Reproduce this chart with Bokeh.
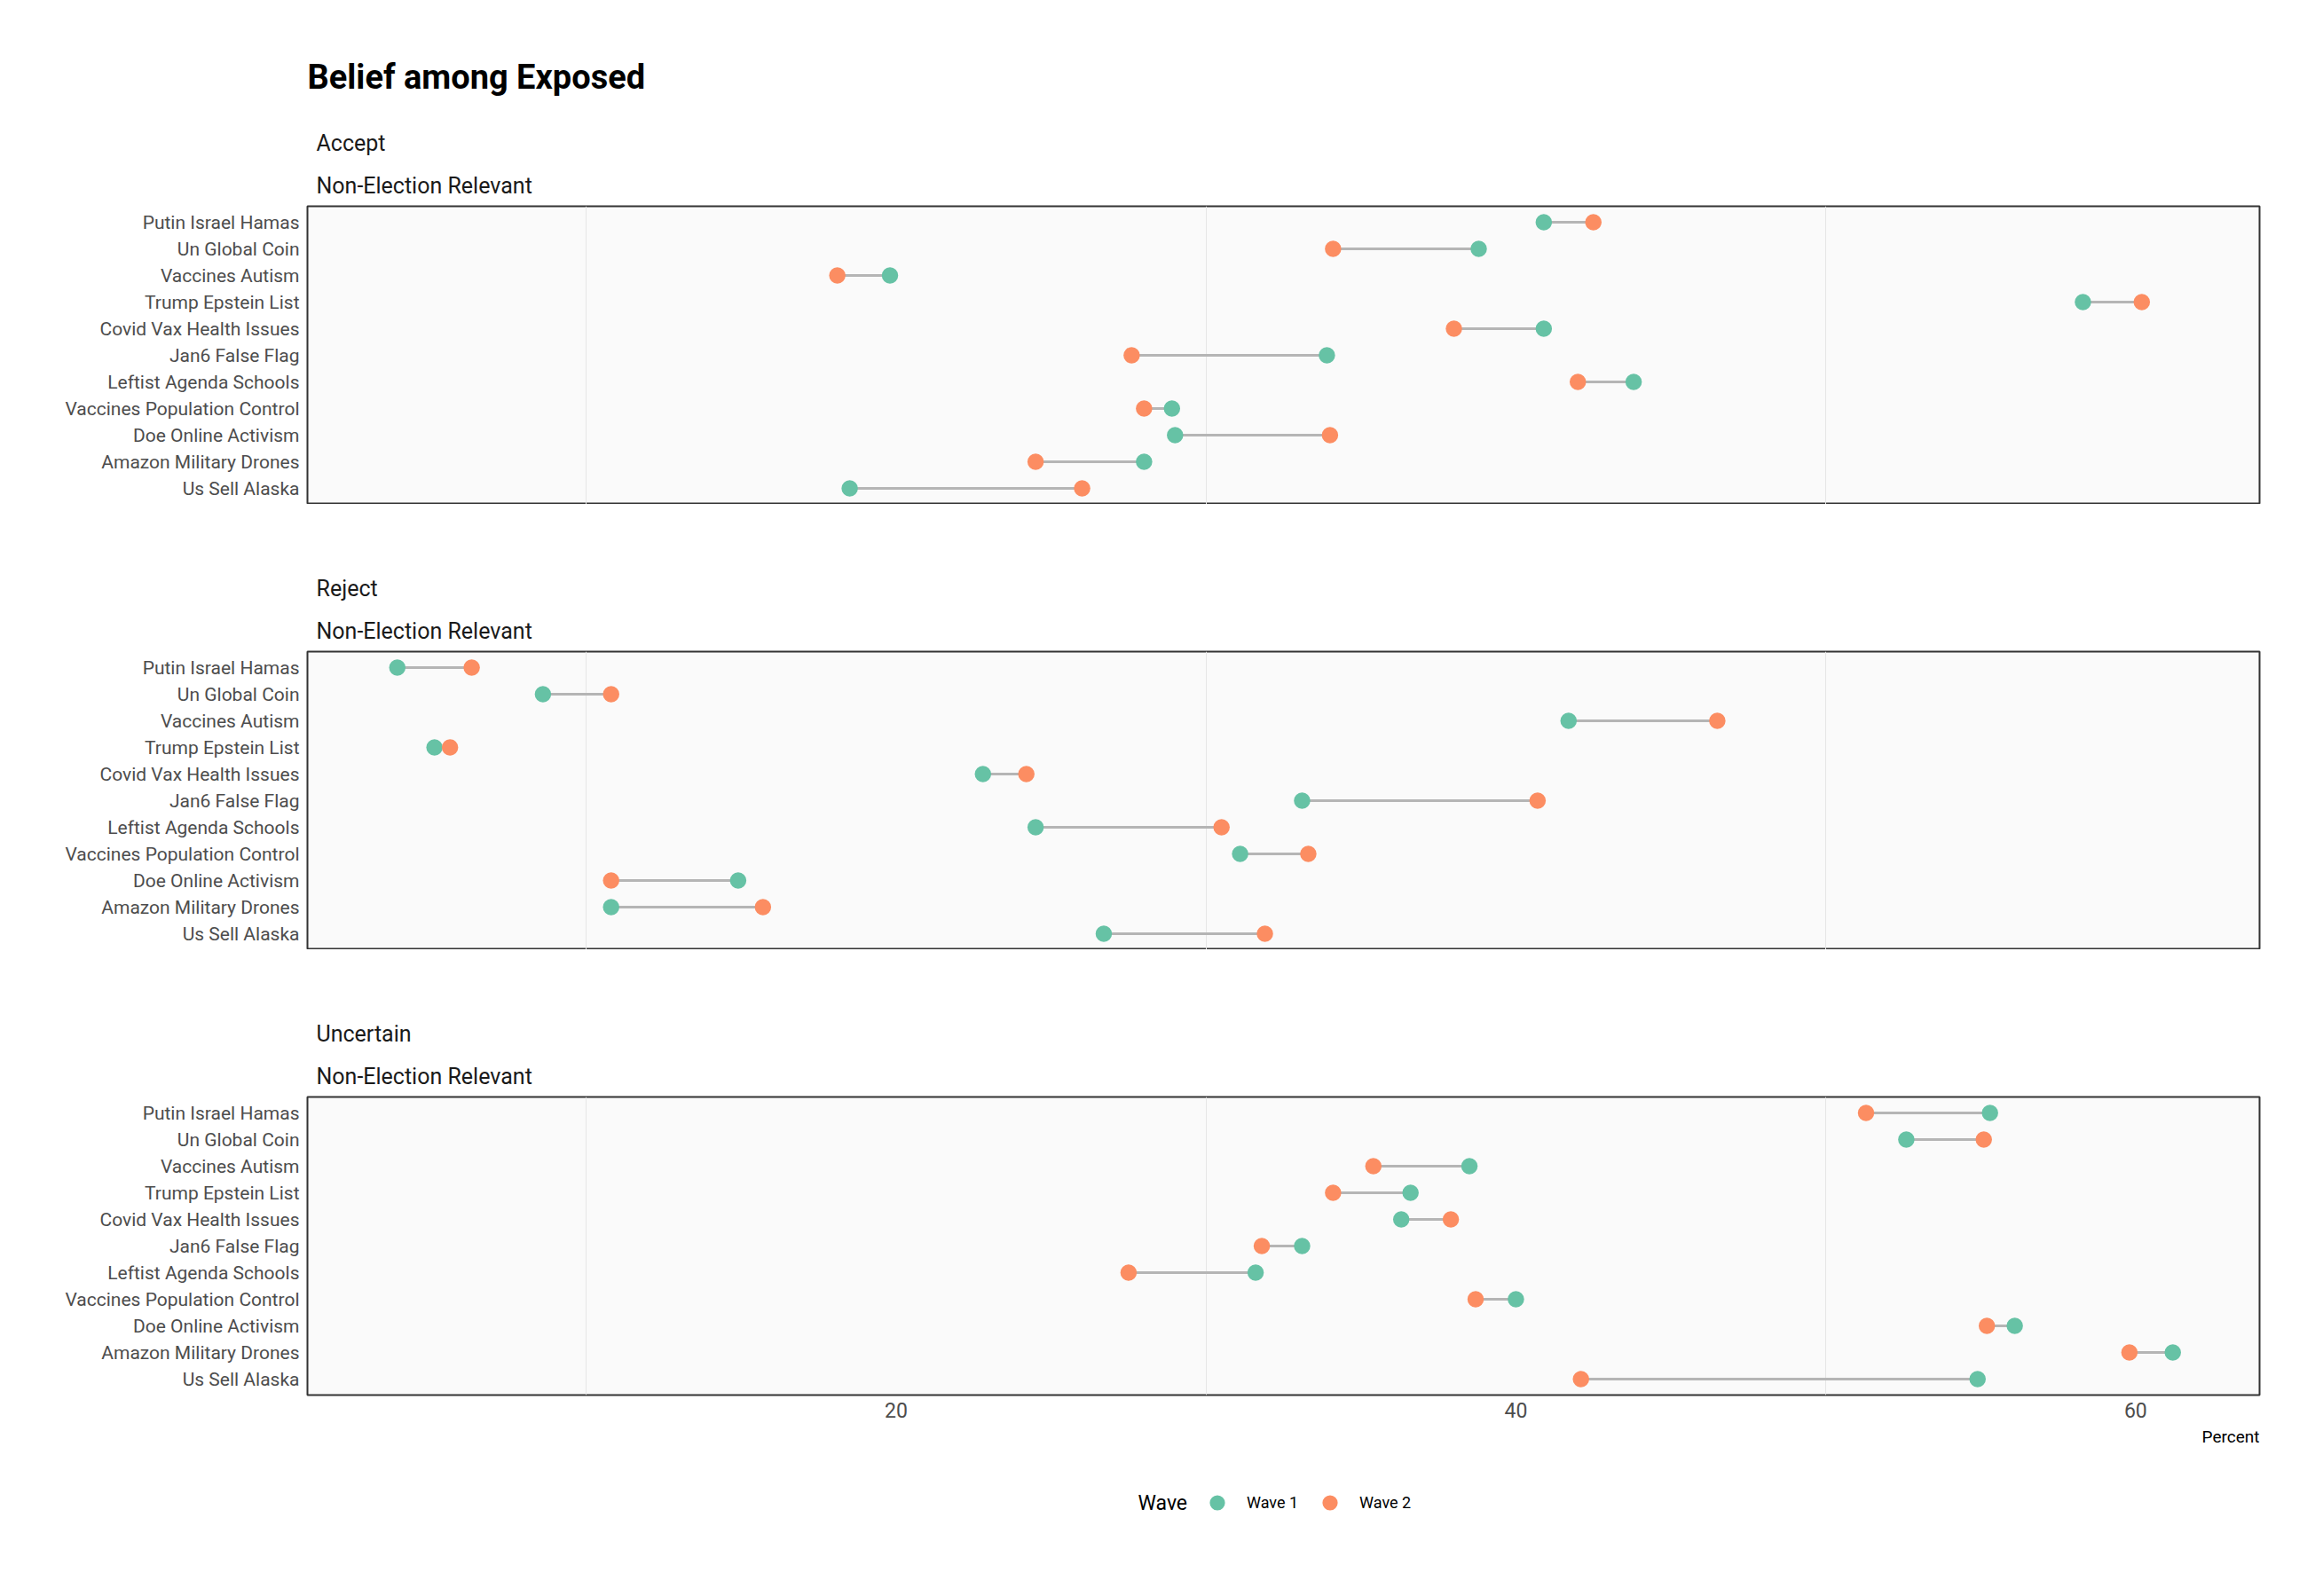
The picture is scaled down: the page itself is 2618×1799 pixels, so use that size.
import numpy as np
from bokeh.plotting import figure
from bokeh.models import (ColumnDataSource, FactorRange, Range1d, FixedTicker, Grid,
                          Title, Label, Legend, LegendItem)
from bokeh.layouts import column
from bokeh.embed import file_html
from bokeh.resources import INLINE

# ---------------- data ----------------
topics = ["Putin Israel Hamas", "Un Global Coin", "Vaccines Autism", "Trump Epstein List",
          "Covid Vax Health Issues", "Jan6 False Flag", "Leftist Agenda Schools",
          "Vaccines Population Control", "Doe Online Activism", "Amazon Military Drones",
          "Us Sell Alaska"]

accept_w1 = [40.9, 38.8, 19.8, 58.3, 40.9, 33.9, 43.8, 28.9, 29.0, 28.0, 18.5]
accept_w2 = [42.5, 34.1, 18.1, 60.2, 38.0, 27.6, 42.0, 28.0, 34.0, 24.5, 26.0]

reject_w1 = [3.9, 8.6, 41.7, 5.1, 22.8, 33.1, 24.5, 31.1, 14.9, 10.8, 26.7]
reject_w2 = [6.3, 10.8, 46.5, 5.6, 24.2, 40.7, 30.5, 33.3, 10.8, 15.7, 31.9]

uncertain_w1 = [55.3, 52.6, 38.5, 36.6, 36.3, 33.1, 31.6, 40.0, 56.1, 61.2, 54.9]
uncertain_w2 = [51.3, 55.1, 35.4, 34.1, 37.9, 31.8, 27.5, 38.7, 55.2, 59.8, 42.1]

panels = ["Accept", "Reject", "Uncertain"]
group_label = "Non-Election Relevant"
x_ticks = [20, 40, 60]
grid_ticks = [10, 30, 50]
legend_title = "Wave"
wave_labels = ["Wave 1", "Wave 2"]

# ---------------- style ----------------
FONT = "Roboto"
C1 = "#66C2A5"
C2 = "#FC8D62"
FRAME_W = 2200
FRAME_H = 336
x_range = Range1d(1.0, 64.0)

series = [(accept_w1, accept_w2), (reject_w1, reject_w2), (uncertain_w1, uncertain_w2)]
figs = []
for k, (name, (w1, w2)) in enumerate(zip(panels, series)):
    last = (k == 2)
    yr = FactorRange(factors=list(reversed(topics)), range_padding=0.1,
                     range_padding_units="absolute")
    p = figure(frame_width=FRAME_W, frame_height=FRAME_H, x_range=x_range, y_range=yr,
               output_backend="svg", toolbar_location=None,
               x_axis_location="below" if last else None,
               min_border_left=346, min_border_right=60,
               min_border_top=232 if k == 0 else 166,
               min_border_bottom=80 if last else 0)
    p.background_fill_color = "#FAFAFA"
    p.border_fill_color = "white"
    p.outline_line_color = "#333333"
    p.outline_line_width = 2
    p.grid.visible = False
    p.add_layout(Grid(dimension=0, ticker=FixedTicker(ticks=grid_ticks),
                      grid_line_color="#E6E6E6", grid_line_width=1))

    ya = p.yaxis[0]
    ya.axis_line_color = None
    ya.major_tick_line_color = None
    ya.minor_tick_line_color = None
    ya.major_label_text_font = FONT
    ya.major_label_text_font_size = "21px"
    ya.major_label_text_color = "#4D4D4D"
    ya.major_label_standoff = 3

    src = ColumnDataSource(dict(topic=topics, w1=w1, w2=w2))
    p.segment(x0="w1", y0="topic", x1="w2", y1="topic", source=src,
              line_color="#B5B5B5", line_width=3)
    p.scatter(x="w1", y="topic", source=src, size=18.5, fill_color=C1, line_color=None)
    p.scatter(x="w2", y="topic", source=src, size=18.5, fill_color=C2, line_color=None)

    # strip labels (first added = closest to the panel)
    p.add_layout(Title(text=group_label, align="left", offset=10, standoff=18,
                       text_font=FONT, text_font_size="25px", text_font_style="normal",
                       text_color="#1A1A1A"), "above")
    p.add_layout(Title(text=name, align="left", offset=10, standoff=15,
                       text_font=FONT, text_font_size="25px", text_font_style="normal",
                       text_color="#1A1A1A"), "above")
    if k == 0:
        p.add_layout(Title(text="Belief among Exposed", align="left", offset=0, standoff=58,
                           text_font=FONT, text_font_size="38px", text_font_style="bold",
                           text_color="black"), "above")

    if last:
        xa = p.xaxis[0]
        xa.ticker = FixedTicker(ticks=x_ticks)
        xa.axis_line_color = None
        xa.major_tick_line_color = None
        xa.minor_tick_line_color = None
        xa.major_label_text_font = FONT
        xa.major_label_text_font_size = "23px"
        xa.major_label_text_color = "#4D4D4D"
        xa.major_label_standoff = 2
        p.add_layout(Title(text="Percent", align="right", offset=0, standoff=10,
                           text_font=FONT, text_font_size="19px", text_font_style="normal",
                           text_color="black"), "below")
    figs.append(p)

# ---------------- legend strip ----------------
pl = figure(frame_width=FRAME_W, frame_height=84, x_range=Range1d(0, 1), y_range=Range1d(0, 1),
            output_backend="svg", toolbar_location=None, x_axis_location=None,
            y_axis_location=None, min_border_left=346, min_border_right=60,
            min_border_top=0, min_border_bottom=0)
pl.outline_line_color = None
pl.background_fill_color = "white"
pl.border_fill_color = "white"
pl.grid.visible = False
# legend-key renderers (no visible point of their own)
key_src = ColumnDataSource(dict(x=np.array([np.nan]), y=np.array([np.nan])))
lr1 = pl.scatter(x="x", y="y", source=key_src, size=18, fill_color=C1, line_color=None)
lr2 = pl.scatter(x="x", y="y", source=key_src, size=18, fill_color=C2, line_color=None)
leg = Legend(items=[LegendItem(label=wave_labels[0], renderers=[lr1]),
                    LegendItem(label=wave_labels[1], renderers=[lr2])],
             orientation="horizontal", location=(1004, 21),
             glyph_width=43, glyph_height=43, label_standoff=12, spacing=14,
             padding=0, margin=0, border_line_color=None, background_fill_alpha=0,
             label_text_font=FONT, label_text_font_size="18px",
             label_text_color="black")
pl.add_layout(leg, "center")
pl.add_layout(Label(x=936, y=42, x_units="screen", y_units="screen", text=legend_title,
                    text_font=FONT, text_font_size="23px", text_color="black",
                    text_baseline="middle"))
figs.append(pl)

layout = column(*figs, spacing=0)
open("out.html", "w").write(file_html(layout, INLINE))
